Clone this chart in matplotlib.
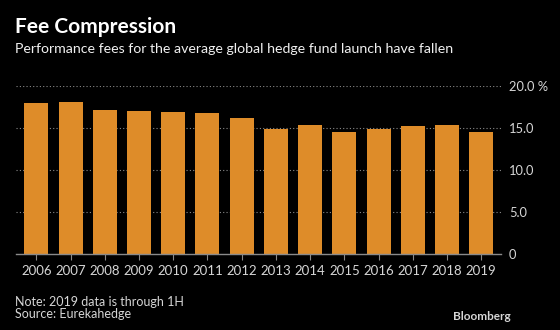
import matplotlib
matplotlib.use("Agg")
import matplotlib.pyplot as plt
from matplotlib.ticker import FixedLocator

years = ["2006", "2007", "2008", "2009", "2010", "2011", "2012",
         "2013", "2014", "2015", "2016", "2017", "2018", "2019"]
fees = [18.0, 18.1, 17.2, 17.0, 16.9, 16.8, 16.2,
        14.9, 15.3, 14.5, 14.9, 15.2, 15.4, 14.5]
yticks = [0, 5, 10, 15, 20]
ytick_labels = ["0", "5.0", "10.0", "15.0", "20.0 %"]

BG = "#000000"
BAR = "#DE8C29"
TXT = "#D6D6D6"
GRID = "#8A8A8A"
FONT = "Lato"

fig = plt.figure(figsize=(5.6, 3.3), dpi=100, facecolor=BG)
W, H = 560, 330
ax = fig.add_axes([16 / W, 1 - 254 / H, (500.7 - 16) / W, (254 - 86) / H])
ax.set_facecolor(BG)

x = list(range(len(years)))
ax.bar(x, fees, width=0.7, color=BAR, zorder=3)
ax.set_xlim(-0.593, 13.567)
ax.set_ylim(0, 20)

ax.yaxis.tick_right()
ax.yaxis.set_major_locator(FixedLocator(yticks))
ax.set_yticklabels(ytick_labels, fontname=FONT, fontsize=9.3, color=TXT, ha="left")
ax.tick_params(axis="y", length=0, pad=6)
ax.set_xticks(x)
ax.set_xticklabels(years, fontname=FONT, fontsize=9.5, color=TXT)
ax.tick_params(axis="x", length=4, color=GRID, width=0.8, pad=4, direction="out")

for v in yticks[1:]:
    ax.axhline(v, color=GRID, lw=0.8, ls=(0, (1, 2)), zorder=1)

for s in ["top", "left", "right"]:
    ax.spines[s].set_visible(False)
ax.spines["bottom"].set_color(GRID)
ax.spines["bottom"].set_linewidth(1.0)
ax.spines["bottom"].set_zorder(4)

fig.text(15 / W, 1 - 27 / H, "Fee Compression", fontname=FONT, fontweight="bold",
         fontsize=15, color="#FFFFFF", va="center", ha="left")
fig.text(15 / W, 1 - 49 / H,
         "Performance fees for the average global hedge fund launch have fallen",
         fontname=FONT, fontsize=10.2, color="#F0F0F0", va="center", ha="left")
fig.text(15 / W, 1 - 302 / H, "Note: 2019 data is through 1H", fontname=FONT,
         fontsize=9, color=TXT, va="center", ha="left")
fig.text(15 / W, 1 - 314 / H, "Source: Eurekahedge", fontname=FONT,
         fontsize=9, color=TXT, va="center", ha="left")
fig.text(511 / W, 1 - 317 / H, "Bloomberg", fontname=FONT, fontweight="bold",
         fontsize=8.5, color=TXT, va="center", ha="right")

fig.savefig("out.png", dpi=100, facecolor=BG)
